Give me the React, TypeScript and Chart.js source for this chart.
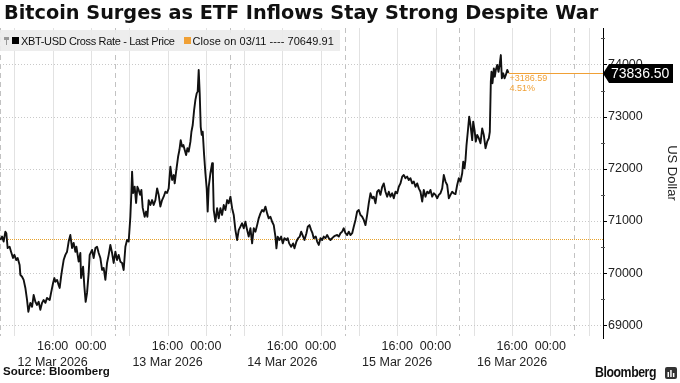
import React, { useEffect, useRef } from "react";
import { Chart, registerables } from "chart.js";

Chart.register(...registerables);

// ---------- data ----------
// hours since 12 Mar 2026 00:00
const hours = [
  5.07, 5.43, 5.76, 6.12, 6.32, 6.6, 7.01, 7.31, 7.72, 8.0,
  8.41, 8.69, 9.1, 9.25, 9.61, 9.94, 10.3, 10.65, 10.92, 11.34,
  11.7, 12.03, 12.39, 12.74, 13.08, 13.43, 13.79, 14.12, 14.48, 14.83,
  15.38, 15.67, 16.09, 16.36, 16.57, 16.92, 17.26, 17.47, 17.76, 17.97,
  18.3, 18.66, 19.01, 19.35, 19.7, 20.06, 20.39, 20.75, 20.96, 21.44,
  21.79, 21.94, 22.36, 22.63, 22.9, 23.19, 23.53, 23.74, 24.24, 24.57,
  24.93, 25.28, 25.62, 25.97, 26.33, 26.66, 27.02, 27.37, 27.71, 28.06,
  28.42, 28.75, 29.11, 29.46, 29.8, 30.15, 30.51, 30.84, 31.2, 31.55,
  31.89, 32.24, 32.45, 32.6, 32.81, 33.14, 33.44, 33.71, 33.98, 34.27,
  34.54, 34.82, 35.23, 35.53, 35.8, 36.07, 36.43, 36.78, 37.11, 37.47,
  37.83, 38.16, 38.51, 38.87, 39.2, 39.56, 39.91, 40.25, 40.6, 40.96,
  41.3, 41.5, 41.8, 42.21, 42.49, 42.76, 43.05, 43.32, 43.6, 43.89,
  44.16, 44.43, 44.79, 45.0, 45.27, 45.56, 45.83, 46.1, 46.31, 46.52,
  46.73, 46.94, 47.15, 47.36, 47.65, 47.92, 48.19, 48.4, 48.61, 48.97,
  49.32, 49.49, 49.66, 50.01, 50.37, 50.7, 51.06, 51.41, 51.75, 52.1,
  52.46, 52.79, 53.15, 53.5, 53.84, 54.19, 54.55, 54.88, 55.24, 55.59,
  55.93, 56.28, 56.64, 56.97, 57.33, 57.68, 58.02, 58.37, 58.73, 59.06,
  59.42, 59.77, 60.11, 60.46, 60.82, 61.15, 61.51, 61.86, 62.2, 62.55,
  62.76, 63.03, 63.39, 63.74, 64.08, 64.44, 64.85, 65.13, 65.42, 65.84,
  66.25, 66.53, 66.94, 67.3, 67.63, 67.93, 68.35, 68.62, 69.03, 69.31,
  69.66, 70.02, 70.29, 70.56, 70.98, 71.27, 71.61, 71.96, 72.31, 72.65,
  73.0, 73.36, 73.7, 74.05, 74.41, 74.74, 75.09, 75.45, 75.79, 76.14,
  76.5, 76.83, 77.19, 77.54, 77.88, 78.23, 78.59, 78.92, 79.28, 79.63,
  79.97, 80.32, 80.68, 81.01, 81.37, 81.72, 82.06, 82.41, 82.77, 83.1,
  83.46, 83.81, 84.15, 84.5, 84.86, 85.19, 85.55, 85.9, 86.24, 86.59,
  86.95, 87.28, 87.64, 87.99, 88.33, 88.68, 89.04, 89.37, 89.73, 90.08,
  90.42, 90.77, 91.13, 91.46, 91.82, 92.17, 92.51, 92.86, 93.22, 93.55,
  93.91, 94.26, 94.6, 94.95, 95.31, 95.64, 96.0, 96.35, 96.69, 97.04,
  97.4, 97.73, 98.09, 98.44, 98.78, 99.13, 99.49, 99.82, 100.18, 100.53,
  100.87, 101.22, 101.58, 101.79, 102.06, 102.27, 102.48, 102.75, 103.04, 103.31,
  103.67, 103.88, 104.15, 104.42, 104.71, 105.05, 105.4, 105.76, 106.09, 106.45,
  106.8, 107.14, 107.35, 107.56, 107.7, 107.91, 108.19, 108.4, 108.6, 108.89,
  109.17, 109.44, 109.65, 109.86, 110.15, 110.42, 110.7, 110.99, 111.26,
];

const prices = [
  70635, 70700, 70605, 70795, 70765, 70480, 70505, 70410, 70290, 70350,
  70250, 70290, 70155, 69965, 69930, 69870, 69715, 69485, 69260, 69430,
  69355, 69580, 69450, 69390, 69450, 69295, 69430, 69485, 69430, 69525,
  69485, 69620, 69810, 69905, 69835, 69870, 69770, 69715, 69930, 70060,
  70250, 70350, 70410, 70605, 70730, 70480, 70580, 70410, 70505, 70220,
  70385, 69905, 70125, 69740, 69450, 69620, 70005, 70350, 70445, 70290,
  70480, 70505, 70385, 70290, 70060, 70100, 69870, 70195, 70350, 70540,
  70385, 70195, 70410, 70250, 70350, 70220, 70195, 70060, 70505, 70635,
  70605, 71080, 71535, 71945, 71535, 71655, 71345, 71655, 71595, 71500,
  71595, 71250, 71080, 71180, 71080, 71400, 71305, 71400, 71305, 71400,
  71625, 71500, 71275, 71400, 71465, 71560, 71535, 71625, 72040, 71785,
  71880, 71720, 71945, 72230, 72360, 72550, 72425, 72455, 72360, 72265,
  72395, 72330, 72520, 72710, 72840, 73125, 73320, 73445, 73480, 73895,
  73445, 72805, 72650, 72710, 72265, 71915, 71625, 71180, 71655, 71915,
  72105, 71880, 71210, 70985, 71245, 71050, 71245, 71115, 71305, 71210,
  71400, 71340, 71465, 71245, 71115, 70825, 70635, 70825, 70890, 70955,
  70860, 70985, 70825, 70700, 70860, 70570, 70860, 70795, 70920, 71050,
  71145, 71210, 71180, 71275, 71145, 71050, 71080, 70985, 70920, 70700,
  70475, 70700, 70635, 70700, 70570, 70670, 70635, 70670, 70570, 70505,
  70570, 70475, 70605, 70670, 70700, 70795, 70700, 70635, 70765, 70890,
  70920, 70825, 70765, 70670, 70700, 70605, 70540, 70670, 70635, 70700,
  70670, 70730, 70670, 70635, 70670, 70700, 70720, 70730, 70700, 70765,
  70795, 70860, 70765, 70730, 70795, 70730, 70765, 70890, 71020, 71180,
  71210, 71115, 71080, 71020, 70920, 71115, 71340, 71530, 71435, 71465,
  71340, 71560, 71595, 71500, 71655, 71720, 71560, 71465, 71560, 71465,
  71530, 71435, 71560, 71530, 71655, 71720, 71850, 71880, 71820, 71850,
  71785, 71820, 71720, 71755, 71655, 71720, 71625, 71560, 71370, 71595,
  71465, 71560, 71530, 71595, 71465, 71530, 71500, 71435, 71500, 71530,
  71625, 71880, 71755, 71690, 71435, 71500, 71560, 71530, 71515, 71690,
  71820, 71755, 71915, 72135, 72010, 72170, 72455, 72710, 73000, 72840,
  72550, 72905, 72745, 72520, 72650, 72585, 72490, 72775, 72650, 72395,
  72520, 72585, 72710, 73670, 73860, 73640, 73925, 73765, 73895, 73990,
  73860, 74020, 74180, 73735, 73830, 73735, 73800, 73895, 73836.5,
];

const closePrice = 70649.91;
const xMin = 5;
const xMax = 131;
const yMin = 68756;
const yMax = 74699;
const yTicks = [69000, 70000, 71000, 72000, 73000, 74000];
const yMinorTicks = [69500, 70500, 71500, 72500, 73500, 74500];
const xTickHours = [8, 16, 24, 32, 40, 48, 56, 64, 72, 80, 88, 96, 104, 112, 120, 128];
const dayLineHours = [5, 29, 53, 77, 101, 125];
const dateLabels = ["12 Mar 2026", "13 Mar 2026", "14 Mar 2026", "15 Mar 2026", "16 Mar 2026"];
const title = "Bitcoin Surges as ETF Inflows Stay Strong Despite War";
const seriesLabel = "XBT-USD Cross Rate - Last Price";
const closeLabel = "Close on 03/11 ---- 70649.91";
const yTitle = "US Dollar";

// ---------- styles ----------
const FONT = "'Liberation Sans', Arial, sans-serif";
const ORANGE = "#f0a035";

const overlay = {
  id: "overlay",
  beforeDatasetsDraw(chart: any) {
    const { ctx, chartArea: a, scales } = chart;
    const x = scales.x;
    const y = scales.y;
    ctx.save();
    ctx.lineWidth = 1;
    // solid vertical grid
    ctx.strokeStyle = "#e2e2e2";
    xTickHours.forEach((h) => {
      const px = Math.round(x.getPixelForValue(h)) + 0.5;
      ctx.beginPath();
      ctx.moveTo(px, a.top);
      ctx.lineTo(px, a.bottom - 2);
      ctx.stroke();
    });
    // dashed day separators
    ctx.strokeStyle = "#c2c2c2";
    ctx.setLineDash([5, 4]);
    dayLineHours.forEach((h) => {
      const px = Math.round(x.getPixelForValue(h)) + 0.5;
      ctx.beginPath();
      ctx.moveTo(px, a.top);
      ctx.lineTo(px, a.bottom - 2);
      ctx.stroke();
    });
    // dotted horizontal grid
    ctx.strokeStyle = "#c9c9c9";
    ctx.setLineDash([1, 2]);
    yTicks.forEach((v) => {
      const py = Math.round(y.getPixelForValue(v)) + 0.5;
      ctx.beginPath();
      ctx.moveTo(a.left, py);
      ctx.lineTo(a.right, py);
      ctx.stroke();
    });
    // previous close
    ctx.strokeStyle = "#e8a22a";
    ctx.setLineDash([1, 1]);
    const cy = Math.round(y.getPixelForValue(closePrice)) + 0.5;
    ctx.beginPath();
    ctx.moveTo(a.left, cy);
    ctx.lineTo(a.right, cy);
    ctx.stroke();
    ctx.restore();
  },
  afterDatasetsDraw(chart: any) {
    const { ctx, chartArea: a, scales } = chart;
    const x = scales.x;
    const y = scales.y;
    ctx.save();
    // y tick marks
    ctx.strokeStyle = "#000";
    ctx.lineWidth = 1;
    yTicks.forEach((v) => {
      const py = Math.round(y.getPixelForValue(v)) + 0.5;
      ctx.beginPath();
      ctx.moveTo(a.right, py);
      ctx.lineTo(a.right + 4, py);
      ctx.stroke();
    });
    ctx.strokeStyle = "#555";
    yMinorTicks.forEach((v) => {
      const py = Math.round(y.getPixelForValue(v)) + 0.5;
      ctx.beginPath();
      ctx.moveTo(a.right - 2, py);
      ctx.lineTo(a.right + 2, py);
      ctx.stroke();
    });
    // last price line
    const last = prices[prices.length - 1];
    const lx = x.getPixelForValue(hours[hours.length - 1]);
    const ly = Math.round(y.getPixelForValue(last)) + 0.5;
    ctx.strokeStyle = ORANGE;
    ctx.beginPath();
    ctx.moveTo(lx, ly);
    ctx.lineTo(a.right, ly);
    ctx.stroke();
    // change annotation
    const diff = last - closePrice;
    const pct = (diff / closePrice) * 100;
    ctx.fillStyle = ORANGE;
    ctx.font = `9px ${FONT}`;
    ctx.textBaseline = "top";
    ctx.textAlign = "left";
    ctx.fillText((diff >= 0 ? "+" : "") + diff.toFixed(2), lx + 1, ly + 1);
    ctx.fillText(pct.toFixed(2) + "%", lx + 1, ly + 11);
    // last price box
    const bx = a.right;
    ctx.fillStyle = "#000";
    ctx.beginPath();
    ctx.moveTo(bx, ly);
    ctx.lineTo(bx + 6, ly - 9.5);
    ctx.lineTo(bx + 70, ly - 9.5);
    ctx.lineTo(bx + 70, ly + 9.5);
    ctx.lineTo(bx + 6, ly + 9.5);
    ctx.closePath();
    ctx.fill();
    ctx.fillStyle = "#fff";
    ctx.font = `14px ${FONT}`;
    ctx.textBaseline = "middle";
    ctx.fillText(last.toFixed(2), bx + 8, ly + 1);
    // y axis title
    ctx.save();
    ctx.translate(a.right + 69, (a.top + a.bottom) / 2 - 10);
    ctx.rotate(Math.PI / 2);
    ctx.fillStyle = "#222";
    ctx.font = `13px ${FONT}`;
    ctx.textAlign = "center";
    ctx.textBaseline = "middle";
    ctx.fillText(yTitle, 0, 0);
    ctx.restore();
    ctx.restore();
  },
};

export default function App() {
  const ref = useRef<HTMLCanvasElement>(null);

  useEffect(() => {
    const canvas = ref.current;
    if (!canvas) return;
    const chart = new Chart(canvas, {
      type: "line",
      data: {
        datasets: [
          {
            label: seriesLabel,
            data: hours.map((h, i) => ({ x: h, y: prices[i] })),
            borderColor: "#111",
            borderWidth: 1.9,
            pointRadius: 0,
            tension: 0,
            borderJoinStyle: "round",
          },
        ],
      },
      options: {
        responsive: false,
        animation: false,
        maintainAspectRatio: false,
        layout: { padding: { top: 28, left: 0, right: 0, bottom: 0 } },
        plugins: {
          legend: { display: false },
          title: { display: false },
          tooltip: { enabled: false },
        },
        scales: {
          x: {
            type: "linear",
            min: xMin,
            max: xMax,
            grid: { display: false, drawTicks: false, tickLength: 0 },
            border: { display: false },
            afterBuildTicks: (s: any) => {
              s.ticks = xTickHours.map((v) => ({ value: v }));
            },
            afterFit: (s: any) => {
              s.height = 45;
            },
            ticks: {
              autoSkip: false,
              maxRotation: 0,
              minRotation: 0,
              padding: 0,
              color: "#222",
              font: { family: FONT, size: 12.5, lineHeight: 1.31 },
              callback: (v: any) => {
                const h = Number(v) % 24;
                if (h === 16) return ["16:00", dateLabels[Math.floor(Number(v) / 24)] || ""];
                if (h === 0) return "00:00";
                return "";
              },
            },
          },
          y: {
            type: "linear",
            position: "right",
            min: yMin,
            max: yMax,
            grid: { display: false, drawTicks: false, tickLength: 0 },
            border: { display: true, color: "#000", width: 1 },
            afterBuildTicks: (s: any) => {
              s.ticks = yTicks.map((v) => ({ value: v }));
            },
            afterFit: (s: any) => {
              s.width = 77;
            },
            ticks: {
              autoSkip: false,
              padding: 5,
              color: "#222",
              font: { family: FONT, size: 12.5 },
              callback: (v: any) => String(v),
            },
          },
        },
      },
      plugins: [overlay],
    } as any);
    return () => chart.destroy();
  }, []);

  return (
    <div
      style={{
        position: "fixed",
        left: 0,
        top: 0,
        width: 680,
        height: 383,
        background: "#fff",
        overflow: "hidden",
      }}
    >
      <canvas ref={ref} width={680} height={383} style={{ position: "absolute", left: 0, top: 0 }} />
      <div
        style={{
          position: "absolute",
          left: 4,
          top: 2,
          fontFamily: "'DejaVu Sans', sans-serif",
          fontWeight: "bold",
          fontSize: 19.3,
          lineHeight: "22px",
          color: "#111",
          whiteSpace: "nowrap",
        }}
      >
        {title}
      </div>
      <div
        style={{
          position: "absolute",
          left: 0,
          top: 30,
          width: 340,
          height: 21,
          background: "rgba(236,236,236,0.92)",
          display: "flex",
          alignItems: "center",
          fontFamily: FONT,
          fontSize: 11,
          letterSpacing: "-0.35px",
          color: "#111",
          whiteSpace: "nowrap",
        }}
      >
        <svg width="8" height="10" style={{ marginLeft: 3, marginRight: 1 }}>
          <rect x="1" y="1" width="5" height="3" fill="#999" />
          <rect x="3" y="4" width="1" height="5" fill="#999" />
        </svg>
        <span style={{ display: "inline-block", width: 7, height: 7, background: "#000", marginRight: 2 }} />
        <span>{seriesLabel}</span>
        <span style={{ display: "inline-block", width: 7, height: 7, background: ORANGE, marginLeft: 9, marginRight: 2 }} />
        <span style={{ letterSpacing: "0.05px" }}>{closeLabel}</span>
      </div>
      <div
        style={{
          position: "absolute",
          left: 3,
          top: 365,
          fontFamily: FONT,
          fontWeight: "bold",
          fontSize: 11.5,
          lineHeight: "13px",
          color: "#111",
        }}
      >
        Source: Bloomberg
      </div>
      <div
        style={{
          position: "absolute",
          left: 595,
          top: 364,
          display: "flex",
          alignItems: "center",
        }}
      >
        <span
          style={{
            display: "inline-block",
            fontFamily: FONT,
            fontWeight: "bold",
            fontSize: 14,
            lineHeight: "16px",
            letterSpacing: "-0.5px",
            color: "#111",
            transform: "scaleX(0.88)",
            transformOrigin: "left center",
          }}
        >
          Bloomberg
        </span>
        <svg width="12" height="12" style={{ position: "absolute", left: 70, top: 3 }}>
          <rect x="0" y="0" width="12" height="12" rx="2" fill="#333" />
          <rect x="2.5" y="5" width="1.5" height="5" fill="#fff" />
          <rect x="5.2" y="3" width="1.5" height="7" fill="#fff" />
          <rect x="7.9" y="6" width="1.5" height="4" fill="#fff" />
        </svg>
      </div>
    </div>
  );
}
